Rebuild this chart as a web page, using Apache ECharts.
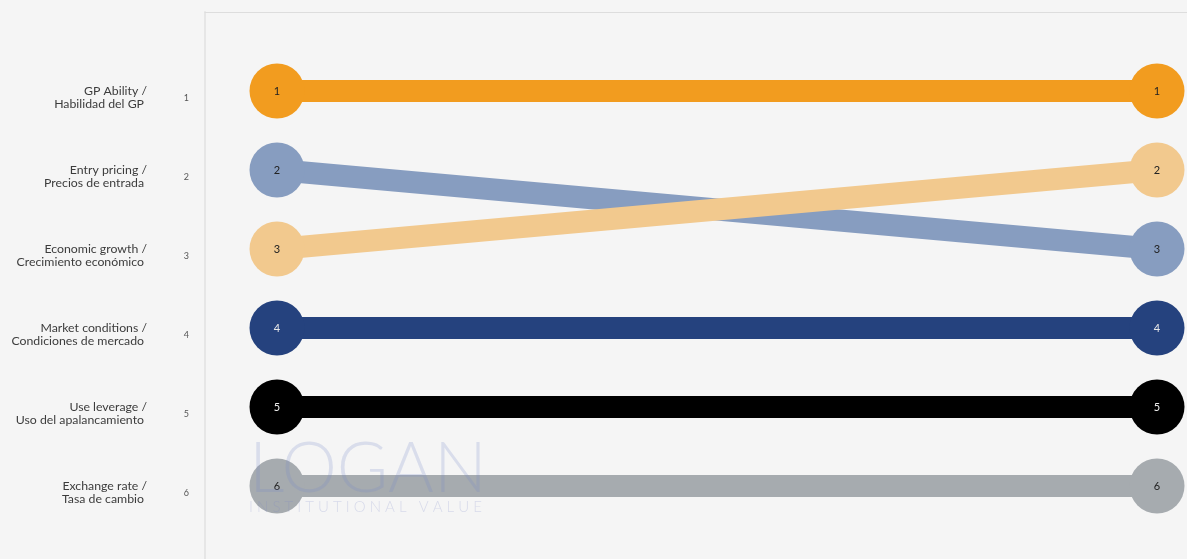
<!DOCTYPE html>
<html>
<head>
<meta charset="utf-8">
<script src="https://cdn.jsdelivr.net/npm/echarts@6/dist/echarts.min.js"></script>
<style>
  html, body { margin: 0; padding: 0; background: #f5f5f5; }
  #chart { width: 1187px; height: 559px; }
</style>
</head>
<body>
<div id="chart"></div>
<script>
// Factor names (English / Spanish), in starting rank order
const factorEn = ['GP Ability /', 'Entry pricing /', 'Economic growth /',
                  'Market conditions /', 'Use leverage /', 'Exchange rate /'];
const factorEs = ['Habilidad del GP', 'Precios de entrada', 'Crecimiento económico',
                  'Condiciones de mercado', 'Uso del apalancamiento', 'Tasa de cambio'];
// Rank in the first and second survey
const rankStart = [1, 2, 3, 4, 5, 6];
const rankEnd   = [1, 3, 2, 4, 5, 6];
// Rank numbers shown beside the names
const rankTicks = ['1', '2', '3', '4', '5', '6'];

const colors = ['#f29c1f', '#879dc0', '#f2c98e', '#25427e', '#000000', '#a6abaf'];
const labelColors = ['#222', '#222', '#222', '#e8e8e8', '#eeeeee', '#222'];

const chart = echarts.init(document.getElementById('chart'));

const series = factorEn.map((name, i) => ({
  name: name + ' ' + factorEs[i],
  type: 'line',
  xAxisIndex: 0,
  yAxisIndex: 0,
  data: [[0, rankStart[i]], [1, rankEnd[i]]],
  symbol: 'circle',
  symbolSize: 55,
  itemStyle: { color: colors[i], opacity: 1 },
  lineStyle: { color: colors[i], width: 22, opacity: 1 },
  label: {
    show: true,
    position: 'inside',
    formatter: p => String(p.value[1]),
    color: labelColors[i],
    fontSize: 11,
    fontFamily: 'Lato, sans-serif'
  },
  emphasis: { disabled: true },
  animation: false,
  z: 2 + i
}));

// 79px per rank step inside a 547px tall plot
const yMax = 547 / 79;

const yCommon = {
  type: 'value',
  inverse: true,
  min: 0,
  max: yMax,
  interval: 1,
  splitLine: { show: false },
  axisTick: { show: false }
};
const hiddenX = {
  type: 'value', min: 0, max: 1, show: false
};

chart.setOption({
  backgroundColor: '#f5f5f5',
  animation: false,
  grid: [
    // plot area
    { left: 205, top: 12, right: 0, height: 547, containLabel: false, outerBoundsMode: 'none' },
    // axis-label area, set a few pixels lower than the markers
    { left: 205, top: 19, right: 0, height: 547, containLabel: false, outerBoundsMode: 'none' }
  ],
  xAxis: [
    {
      type: 'value',
      gridIndex: 0,
      position: 'top',
      min: -72 / 880,
      max: 1 + 30 / 880,
      axisLine: { show: true, onZero: false, lineStyle: { color: '#dddddd', width: 1 } },
      axisTick: { show: false },
      axisLabel: { show: false },
      splitLine: { show: false }
    },
    Object.assign({ gridIndex: 1 }, hiddenX)
  ],
  yAxis: [
    Object.assign({}, yCommon, {
      gridIndex: 0,
      axisLine: { show: true, onZero: false, lineStyle: { color: '#e6e6e6', width: 2 } },
      axisLabel: { show: false }
    }),
    Object.assign({}, yCommon, {
      gridIndex: 1,
      position: 'left',
      axisLine: { show: false },
      axisLabel: {
        margin: 16,
        color: '#555',
        fontSize: 9,
        fontFamily: 'Lato, sans-serif',
        formatter: v => (v >= 1 && v <= 6) ? rankTicks[v - 1] : ''
      }
    }),
    Object.assign({}, yCommon, {
      gridIndex: 1,
      position: 'left',
      axisLine: { show: false },
      axisLabel: {
        margin: 58,
        color: '#3c3c3c',
        fontSize: 12.3,
        lineHeight: 13,
        align: 'right',
        fontFamily: 'Lato, sans-serif',
        formatter: v => (v >= 1 && v <= 6)
          ? '{en|' + factorEn[v - 1] + '}\n{es|' + factorEs[v - 1] + '}' : '',
        rich: {
          en: { fontSize: 12.3, lineHeight: 13, color: '#3c3c3c', fontFamily: 'Lato, sans-serif' },
          es: { fontSize: 12.3, lineHeight: 13, color: '#3c3c3c', fontFamily: 'Lato, sans-serif', padding: [0, 3, 0, 0] }
        }
      }
    })
  ],
  series: series,
  graphic: [
    {
      type: 'text',
      left: 249,
      top: 434,
      z: 100,
      silent: true,
      style: {
        text: 'LOGAN',
        fontSize: 70,
        fontWeight: 300,
        fontFamily: 'Lato, sans-serif',
        fill: 'rgba(120,135,200,0.22)'
      }
    },
    {
      type: 'text',
      left: 249,
      top: 500,
      z: 100,
      silent: true,
      style: {
        text: 'I N S T I T U T I O N A L   V A L U E',
        fontSize: 15,
        fontWeight: 300,
        fontFamily: 'Lato, sans-serif',
        fill: 'rgba(120,135,200,0.24)'
      }
    }
  ]
});
</script>
</body>
</html>
